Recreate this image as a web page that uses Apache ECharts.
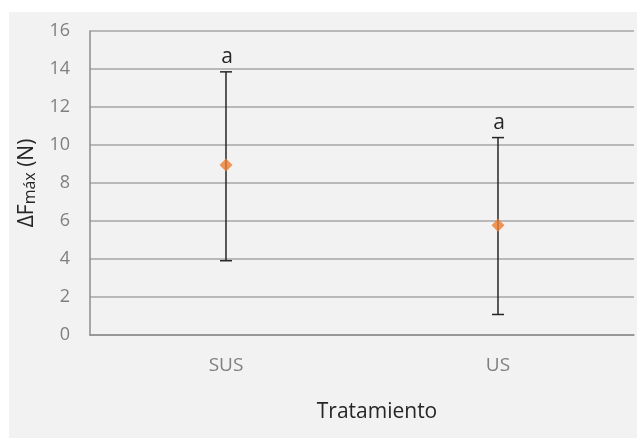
<!DOCTYPE html>
<html>
<head>
<meta charset="utf-8">
<script src="https://cdn.jsdelivr.net/npm/echarts@6/dist/echarts.min.js"></script>
<style>
  html, body { margin: 0; padding: 0; background: #ffffff; }
  #chart { position: absolute; left: 9px; top: 12px; width: 628px; height: 426px; background: #f2f2f2; }
</style>
</head>
<body>
<div id="chart"></div>
<script>
// Treatments and their mean ΔFmáx with the error-bar range
const categories = ['SUS', 'US'];
const means = [8.95, 5.77];
const lows = [3.91, 1.08];
const highs = [13.85, 10.39];
const groupLetters = ['a', 'a'];
const yTicks = { min: 0, max: 16, interval: 2 };

const chart = echarts.init(document.getElementById('chart'), null, { renderer: 'canvas' });

const fontFamily = 'Open Sans';

const errorData = categories.map((c, i) => [i, lows[i], highs[i], groupLetters[i]]);

chart.setOption({
  animation: false,
  grid: { left: 79, right: 3, top: 19, bottom: 103, containLabel: false },
  xAxis: {
    type: 'category',
    data: categories,
    boundaryGap: true,
    axisLine: { show: true, lineStyle: { color: '#8c8c8c', width: 1.5 } },
    axisTick: { show: false },
    axisLabel: { color: '#7f7f7f', fontSize: 19, fontFamily: fontFamily, margin: 21 },
    name: 'Tratamiento',
    nameLocation: 'middle',
    nameGap: 67,
    nameTextStyle: { color: '#262626', fontSize: 21, fontFamily: fontFamily, padding: [0, 0, 0, 30] }
  },
  yAxis: {
    type: 'value',
    min: yTicks.min,
    max: yTicks.max,
    interval: yTicks.interval,
    axisLine: { show: true, lineStyle: { color: '#8c8c8c', width: 1.5 } },
    axisTick: { show: false },
    splitLine: { lineStyle: { color: '#a6a6a6', width: 1.5 } },
    axisLabel: { color: '#7f7f7f', fontSize: 18, fontFamily: fontFamily, margin: 20 },
    name: '{a|ΔF}{b|máx}{a| (N)}',
    nameLocation: 'middle',
    nameGap: 50,
    nameRotate: 90,
    nameTextStyle: {
      rich: {
        a: { color: '#262626', fontSize: 21, fontFamily: fontFamily },
        b: { color: '#262626', fontSize: 16, fontFamily: fontFamily, padding: [6, 0, 0, 0] }
      }
    }
  },
  series: [
    {
      type: 'custom',
      data: errorData,
      z: 2,
      renderItem: function (params, api) {
        const x = api.coord([api.value(0), api.value(1)])[0];
        const yLow = api.coord([api.value(0), api.value(1)])[1];
        const yHigh = api.coord([api.value(0), api.value(2)])[1];
        const half = 6;
        const style = { stroke: '#262626', lineWidth: 1.5 };
        return {
          type: 'group',
          children: [
            { type: 'line', shape: { x1: x, y1: yHigh, x2: x, y2: yLow }, style: style },
            { type: 'line', shape: { x1: x - half, y1: yHigh, x2: x + half, y2: yHigh }, style: style },
            { type: 'line', shape: { x1: x - half, y1: yLow, x2: x + half, y2: yLow }, style: style },
            {
              type: 'text',
              style: {
                text: groupLetters[params.dataIndex],
                x: x + 1,
                y: yHigh - 4,
                textAlign: 'center',
                textVerticalAlign: 'bottom',
                fill: '#262626',
                fontSize: 21,
                fontFamily: fontFamily
              }
            }
          ]
        };
      }
    },
    {
      type: 'scatter',
      data: means,
      symbol: 'diamond',
      symbolSize: 13,
      z: 3,
      itemStyle: { color: '#ed7d31' }
    }
  ]
});
</script>
</body>
</html>
